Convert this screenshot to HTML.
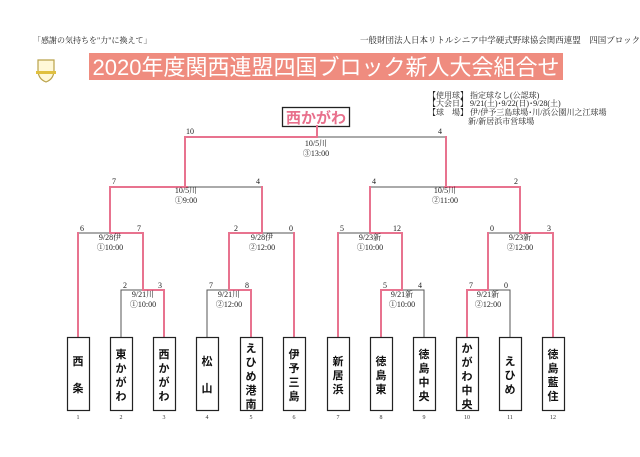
<!DOCTYPE html>
<html><head><meta charset="utf-8"><style>
html,body{margin:0;padding:0;background:#fff;}
body{width:640px;height:452px;overflow:hidden;position:relative;font-family:"Liberation Serif","Noto Serif CJK SC",serif;}
</style></head><body>
<svg width="640" height="452" xmlns="http://www.w3.org/2000/svg" font-family="'Liberation Serif','Noto Serif CJK SC',serif">
<text x="33" y="43" font-size="8" fill="#222">「感謝の気持ちを"力"に換えて」</text>
<text x="360" y="43" font-size="8.5" fill="#222">一般財団法人日本リトルシニア中学硬式野球協会関西連盟　四国ブロック</text>
<rect x="89" y="53" width="474" height="27" fill="#ef8c7f"/>
<text x="326" y="75" font-size="22" fill="#fff" text-anchor="middle" font-family="'Liberation Sans','Noto Sans CJK JP',sans-serif">2020年度関西連盟四国ブロック新人大会組合せ</text>
<path d="M38 60 h16 v10 q0 9 -8 12 q-8 -3 -8 -12z" fill="#fff8d8" stroke="#b9a24a" stroke-width="1.2"/>
<rect x="36" y="71" width="20" height="3" fill="#e0c040"/>
<g font-size="8" fill="#222">
<text x="428" y="98">【使用球】 指定球なし(公認球)</text>
<text x="428" y="106">【大会日】 9/21(土)･9/22(日)･9/28(土)</text>
<text x="428" y="115">【球　場】 伊/伊予三島球場･川/浜公園川之江球場</text>
<text x="468" y="124">新/新居浜市営球場</text>
</g>
<rect x="282.5" y="107.5" width="67" height="19" fill="#fff" stroke="#222" stroke-width="1.3"/>
<text x="316" y="123" font-size="15" font-weight="bold" fill="#e8708c" text-anchor="middle" font-family="'Liberation Sans','Noto Sans CJK JP',sans-serif">西かがわ</text>
<g fill="none" stroke-linecap="square">
<g stroke="#555" stroke-width="1">
<path d="M317 137H446"/>
<path d="M370 187H445 M187 187H262"/>
<path d="M78 233H143 M262 233H294 M338 233H402 M488 233H553"/>
<path d="M121 290H143 M207 290H229 M402 290H424 M488 290H510"/>
<path d="M121 290V337 M207 290V337 M424 290V337 M510 290V337"/>
</g>
<g stroke="#e8738f" stroke-width="2">
<path d="M317 126V137H185V187 M446 137V187"/>
<path d="M110 187H187 M110 187V233 M262 187V233 M370 187V233 M445 187H520V233"/>
<path d="M143 233H110 M229 233H262 M402 233H370 M520 233H553"/>
<path d="M78 233V337 M143 233V290H164V337 M229 233V290H251V337 M294 233V337"/>
<path d="M338 233V337 M402 233V290H381V337 M488 233V290H467V337 M553 233V337"/>
</g>
</g>
<g font-size="8" fill="#222" text-anchor="middle">
<text x="190" y="134">10</text><text x="440" y="134">4</text>
<text x="316" y="146">10/5川</text><text x="316" y="156">③13:00</text>
<text x="114" y="184">7</text><text x="258" y="184">4</text>
<text x="186" y="193">10/5川</text><text x="186" y="203">①9:00</text>
<text x="374" y="184">4</text><text x="516" y="184">2</text>
<text x="445" y="193">10/5川</text><text x="445" y="203">②11:00</text>
<text x="82" y="231">6</text><text x="139" y="231">7</text>
<text x="110" y="240">9/28伊</text><text x="110" y="250">①10:00</text>
<text x="236" y="231">2</text><text x="291" y="231">0</text>
<text x="262" y="240">9/28伊</text><text x="262" y="250">②12:00</text>
<text x="342" y="231">5</text><text x="397" y="231">12</text>
<text x="370" y="240">9/23新</text><text x="370" y="250">①10:00</text>
<text x="492" y="231">0</text><text x="549" y="231">3</text>
<text x="520" y="240">9/23新</text><text x="520" y="250">②12:00</text>
<text x="125" y="288">2</text><text x="160" y="288">3</text>
<text x="143" y="297">9/21川</text><text x="143" y="307">①10:00</text>
<text x="211" y="288">7</text><text x="247" y="288">8</text>
<text x="229" y="297">9/21川</text><text x="229" y="307">②12:00</text>
<text x="385" y="288">5</text><text x="420" y="288">4</text>
<text x="402" y="297">9/21新</text><text x="402" y="307">①10:00</text>
<text x="471" y="288">7</text><text x="506" y="288">0</text>
<text x="488" y="297">9/21新</text><text x="488" y="307">②12:00</text>
</g>
<g stroke="#222" stroke-width="1.2" fill="#fff">
<rect x="67.5" y="337.5" width="22" height="73"/><rect x="110.5" y="337.5" width="22" height="73"/>
<rect x="153.5" y="337.5" width="22" height="73"/><rect x="196.5" y="337.5" width="22" height="73"/>
<rect x="240.5" y="337.5" width="22" height="73"/><rect x="283.5" y="337.5" width="22" height="73"/>
<rect x="327.5" y="337.5" width="22" height="73"/><rect x="370.5" y="337.5" width="22" height="73"/>
<rect x="413.5" y="337.5" width="22" height="73"/><rect x="456.5" y="337.5" width="22" height="73"/>
<rect x="499.5" y="337.5" width="22" height="73"/><rect x="542.5" y="337.5" width="22" height="73"/>
</g>
<g font-size="11" font-weight="bold" fill="#111" text-anchor="middle" font-family="'Liberation Sans','Noto Sans CJK JP',sans-serif">
<text x="78" y="365">西</text><text x="78" y="392">条</text>
<text x="121" y="358">東</text><text x="121" y="372">か</text><text x="121" y="386">が</text><text x="121" y="400">わ</text>
<text x="164" y="358">西</text><text x="164" y="372">か</text><text x="164" y="386">が</text><text x="164" y="400">わ</text>
<text x="207" y="365">松</text><text x="207" y="392">山</text>
<text x="251" y="352">え</text><text x="251" y="366">ひ</text><text x="251" y="380">め</text><text x="251" y="394">港</text><text x="251" y="408">南</text>
<text x="294" y="358">伊</text><text x="294" y="372">予</text><text x="294" y="386">三</text><text x="294" y="400">島</text>
<text x="338" y="365">新</text><text x="338" y="379">居</text><text x="338" y="393">浜</text>
<text x="381" y="365">徳</text><text x="381" y="379">島</text><text x="381" y="393">東</text>
<text x="424" y="358">徳</text><text x="424" y="372">島</text><text x="424" y="386">中</text><text x="424" y="400">央</text>
<text x="467" y="352">か</text><text x="467" y="366">が</text><text x="467" y="380">わ</text><text x="467" y="394">中</text><text x="467" y="408">央</text>
<text x="510" y="365">え</text><text x="510" y="379">ひ</text><text x="510" y="393">め</text>
<text x="553" y="358">徳</text><text x="553" y="372">島</text><text x="553" y="386">藍</text><text x="553" y="400">住</text>
</g>
<g font-size="6" fill="#333" text-anchor="middle">
<text x="78" y="419">1</text><text x="121" y="419">2</text><text x="164" y="419">3</text><text x="207" y="419">4</text><text x="251" y="419">5</text><text x="294" y="419">6</text>
<text x="338" y="419">7</text><text x="381" y="419">8</text><text x="424" y="419">9</text><text x="467" y="419">10</text><text x="510" y="419">11</text><text x="553" y="419">12</text>
</g>
</svg>
</body></html>
